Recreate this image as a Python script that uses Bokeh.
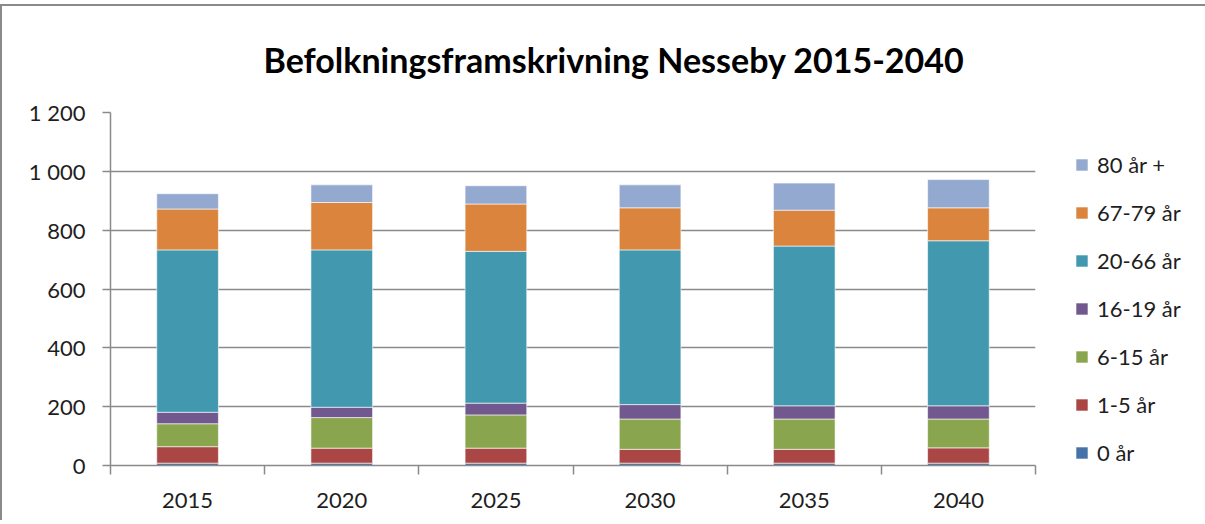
from bokeh.plotting import figure
from bokeh.models import ColumnDataSource, FixedTicker, Legend, LegendItem, Range1d
from bokeh.embed import file_html
from bokeh.resources import INLINE

# ---- data ----
years = ["2015", "2020", "2025", "2030", "2035", "2040"]
series_names = ["0 år", "1-5 år", "6-15 år", "16-19 år", "20-66 år", "67-79 år", "80 år +"]
age_0 = [8, 8, 8, 8, 8, 8]
age_1_5 = [56, 51, 51, 47, 47, 52]
age_6_15 = [78, 104, 113, 103, 103, 98]
age_16_19 = [39, 35, 40, 49, 45, 45]
age_20_66 = [552, 535, 516, 526, 543, 561]
age_67_79 = [139, 161, 161, 143, 122, 112]
age_80 = [52, 60, 62, 78, 92, 96]
colors = ["#4572A7", "#AA4643", "#89A54E", "#71588F", "#4198AF", "#DB843D", "#93A9CF"]
y_ticks = [0, 200, 400, 600, 800, 1000, 1200]
y_tick_labels = ["0", "200", "400", "600", "800", "1 000", "1 200"]
title_text = "Befolkningsframskrivning Nesseby 2015-2040"

FONT = "Lato"
TEXT_COLOR = "#1e1e1e"
GRID = "#8a8a8a"

keys = ["s0", "s1", "s2", "s3", "s4", "s5", "s6"]
series = [age_0, age_1_5, age_6_15, age_16_19, age_20_66, age_67_79, age_80]
centers = [i + 0.5 for i in range(len(years))]
bounds = [i for i in range(len(years) + 1)]

data = {"x": centers}
for k, s in zip(keys, series):
    data[k] = s
source = ColumnDataSource(data)

p = figure(frame_width=925, frame_height=353,
           x_range=Range1d(0, len(years)), y_range=Range1d(y_ticks[0], y_ticks[-1]),
           output_backend="svg", toolbar_location=None,
           min_border_left=108, min_border_top=106, min_border_right=10, min_border_bottom=55,
           styles={"border-top": "2px solid #8a8a8a", "border-left": "2px solid #8a8a8a",
                   "margin-top": "4px"})
p.outline_line_color = None
p.background_fill_color = "white"
p.border_fill_color = "white"

renderers = p.vbar_stack(keys, x="x", width=0.4, color=colors, source=source,
                         line_color="white", line_width=0.6)

# title
p.title.text = title_text
p.title.align = "left"
p.title.offset = 153
p.title.text_font = FONT
p.title.text_font_style = "bold"
p.title.text_font_size = "34px"
p.title.text_color = "#000000"
p.title.vertical_align = "top"
p.title.standoff = 62

# x axis: labels at centres, tick marks at category boundaries
xa = p.xaxis[0]
xa.ticker = FixedTicker(ticks=centers, minor_ticks=bounds)
xa.major_label_overrides = {c: y for c, y in zip(centers, years)}
xa.major_tick_out = 0
xa.major_tick_in = 0
xa.minor_tick_out = 9
xa.minor_tick_in = 0
xa.minor_tick_line_color = GRID
xa.minor_tick_line_width = 1.5
xa.axis_line_color = GRID
xa.axis_line_width = 1.5
xa.major_label_text_font = FONT
xa.major_label_text_font_size = "22px"
xa.major_label_text_color = TEXT_COLOR
xa.major_label_standoff = 18

ya = p.yaxis[0]
ya.ticker = FixedTicker(ticks=y_ticks, minor_ticks=[])
ya.major_label_overrides = {t: l for t, l in zip(y_ticks, y_tick_labels)}
ya.major_tick_out = 8
ya.major_tick_in = 0
ya.major_tick_line_color = GRID
ya.major_tick_line_width = 1.5
ya.axis_line_color = GRID
ya.axis_line_width = 1.5
ya.major_label_text_font = FONT
ya.major_label_text_font_size = "22px"
ya.major_label_text_color = TEXT_COLOR
ya.major_label_standoff = 17

p.xgrid.grid_line_color = None
p.ygrid.grid_line_color = GRID
p.ygrid.grid_line_width = 1.5

items = [LegendItem(label=n, renderers=[r]) for n, r in zip(series_names, renderers)][::-1]
legend = Legend(items=items, location=(39, -1), orientation="vertical",
                glyph_width=15, glyph_height=15, label_standoff=8,
                label_height=26, spacing=21, padding=0, margin=0,
                label_text_font=FONT, label_text_font_size="22px",
                label_text_color=TEXT_COLOR,
                border_line_color=None, background_fill_alpha=0)
p.add_layout(legend, "right")

open("out.html", "w").write(file_html(p, INLINE))
